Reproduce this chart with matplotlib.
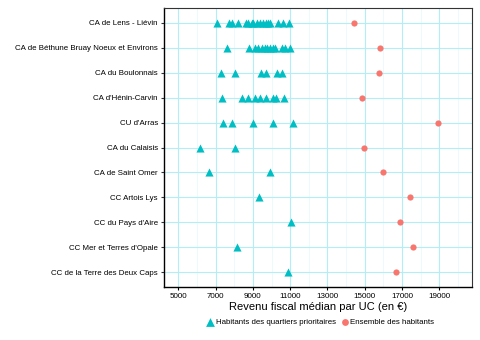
import matplotlib.pyplot as plt
from matplotlib.ticker import MultipleLocator

plt.rcParams["font.family"] = ["Liberation Sans", "DejaVu Sans"]

# ---- DATA ----
territoires = [
    "CA de Lens - Liévin",
    "CA de Béthune Bruay Noeux et Environs",
    "CA du Boulonnais",
    "CA d'Hénin-Carvin",
    "CU d'Arras",
    "CA du Calaisis",
    "CA de Saint Omer",
    "CC Artois Lys",
    "CC du Pays d'Aire",
    "CC Mer et Terres d'Opale",
    "CC de la Terre des Deux Caps",
]

# revenu median des quartiers prioritaires (un point par quartier)
qp_values = [
    [7090, 7740, 7860, 8220, 8630, 8760, 8940, 9020, 9240, 9380, 9560,
     9710, 9830, 9920, 10360, 10630, 10950],
    [7600, 8810, 9110, 9290, 9470, 9650, 9770, 9920, 10100, 10190, 10550,
     10720, 10990],
    [7290, 8040, 9440, 9710, 10320, 10580],
    [7330, 8430, 8720, 9110, 9380, 9700, 10100, 10240, 10690],
    [7410, 7860, 9020, 10100, 11170],
    [6160, 8040],
    [6660, 9920],
    [9350],
    [11050],
    [8130],
    [10900],
]

# revenu median de l'ensemble des habitants
ensemble = [14430, 15800, 15750, 14860, 18930, 14950, 15960, 17430, 16890,
            17610, 16680]

teal = "#00BFC4"
salmon = "#F8766D"

# ---- PLOT ----
fig = plt.figure(figsize=(4.8, 3.4), dpi=100)
ax = fig.add_axes([164 / 480, 1 - 287 / 340, 308 / 480, 279 / 340])

n = len(territoires)
ypos = [n - 1 - i for i in range(n)]

for y, vals in zip(ypos, qp_values):
    ax.scatter(vals, [y] * len(vals), marker="^", s=34, color=teal,
               linewidths=0, zorder=3)
ax.scatter(ensemble, ypos, marker="o", s=20, color=salmon, linewidths=0,
           zorder=3)

ax.set_xlim(4233, 20756)
ax.set_ylim(-0.6, n - 0.4)
ax.set_yticks(ypos)
ax.set_yticklabels(territoires, fontsize=5.7)
ax.xaxis.set_minor_locator(MultipleLocator(1000))
ax.set_xticks(range(5000, 20000, 2000))
ax.tick_params(axis="x", labelsize=5.8, length=2.5, pad=2)
ax.tick_params(axis="y", length=2.5, pad=2, color="#333333")
ax.tick_params(axis="x", which="minor", length=0)

ax.grid(True, which="major", color="#b3eef7", linewidth=0.8, zorder=0)
ax.grid(True, which="minor", axis="x", color="#e4f8fb", linewidth=0.5,
        zorder=0)
ax.set_axisbelow(True)

for side in ["left", "bottom"]:
    ax.spines[side].set_color("black")
    ax.spines[side].set_linewidth(1.0)
for side in ["top", "right"]:
    ax.spines[side].set_color("#333333")
    ax.spines[side].set_linewidth(0.8)

ax.set_xlabel("Revenu fiscal médian par UC (en €)", fontsize=8, labelpad=1)

h1 = ax.scatter([], [], marker="^", s=40, color=teal, linewidths=0)
h2 = ax.scatter([], [], marker="o", s=24, color=salmon, linewidths=0)
fig.legend([h1, h2], ["Habitants des quartiers prioritaires",
                      "Ensemble des habitants"],
           loc="center", bbox_to_anchor=(320 / 480, 1 - 322 / 340), ncol=2,
           frameon=False, fontsize=5.7, handletextpad=0.1, columnspacing=0.5,
           handlelength=1.2)

plt.savefig("out.png", dpi=100)
